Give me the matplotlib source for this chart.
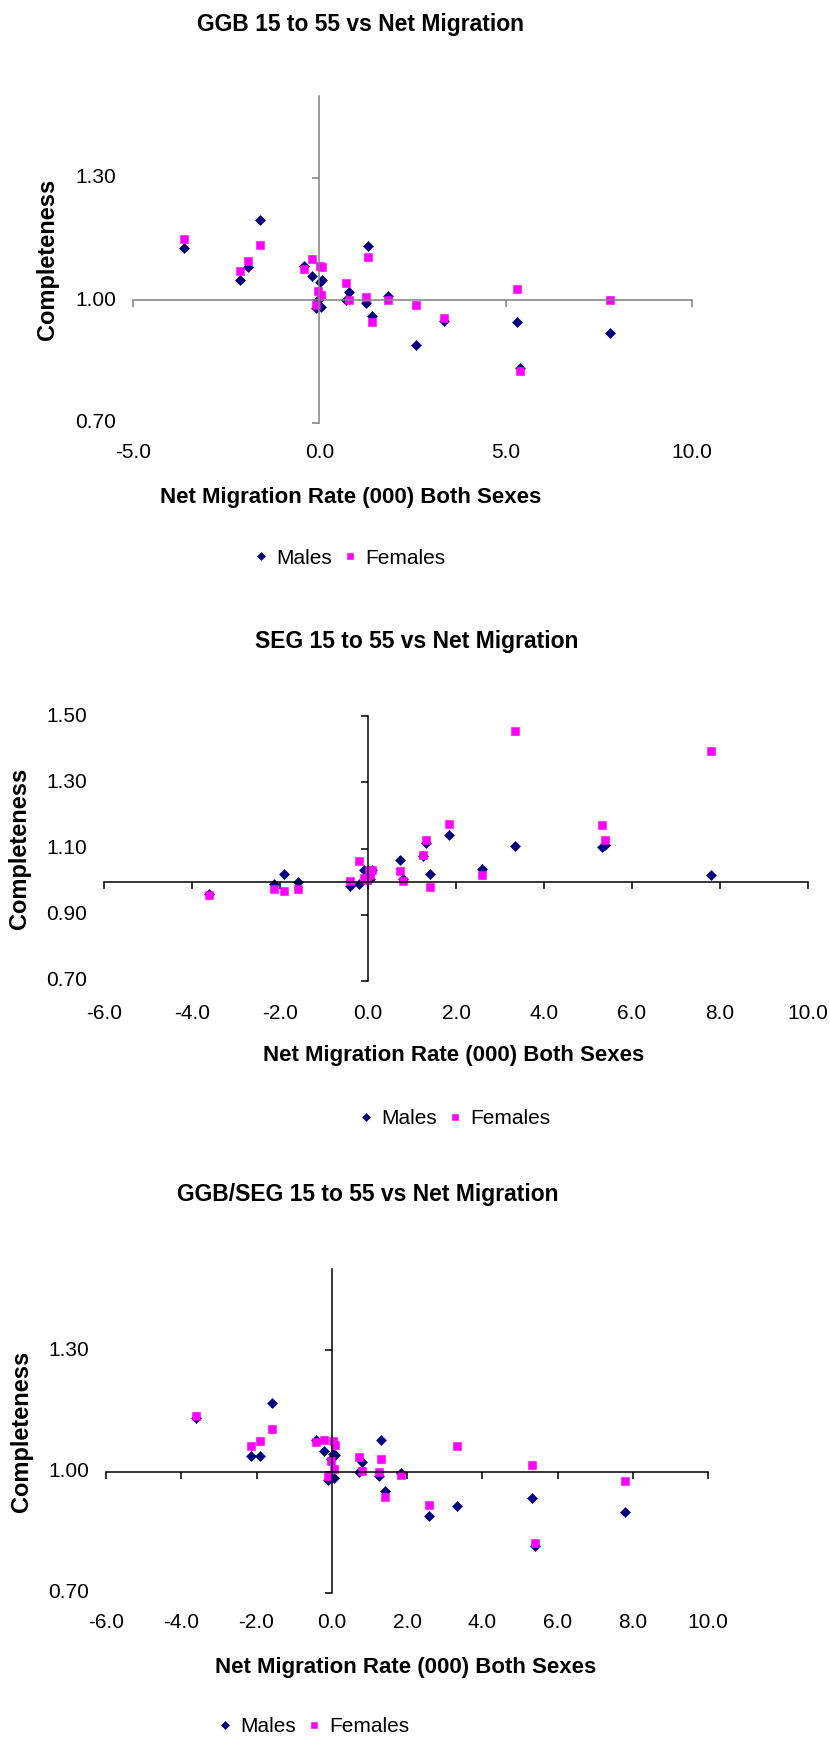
import matplotlib
matplotlib.use('Agg')
import matplotlib.pyplot as plt
from matplotlib.transforms import blended_transform_factory

plt.rcParams['font.family'] = ['Liberation Sans', 'DejaVu Sans']

#############################################
## Data
#############################################
# net migration rate (000), both sexes - one value per area, same in all panels
net_migration = [-3.62, -2.14, -1.91, -1.60, -0.42, -0.21, -0.10, -0.03, 0.02, 0.05, 0.08,
                 0.72, 0.80, 1.25, 1.31, 1.42, 1.84, 2.59, 3.34, 5.31, 5.39, 7.80]

ggb_males = [1.127, 1.049, 1.082, 1.197, 1.084, 1.059, 0.981, 1.000, 1.045, 0.984, 1.049,
             1.000, 1.020, 0.993, 1.133, 0.962, 1.011, 0.892, 0.950, 0.946, 0.834, 0.921]
ggb_females = [1.151, 1.072, 1.096, 1.135, 1.076, 1.101, 0.988, 1.022, 1.085, 1.012, 1.081,
               1.042, 1.002, 1.008, 1.106, 0.948, 1.002, 0.988, 0.958, 1.028, 0.826, 1.002]

seg_males = [0.962, 0.994, 1.023, 0.999, 0.986, 0.992, 1.035, 1.010, 1.020, 1.009, 1.035,
             1.065, 1.007, 1.077, 1.118, 1.022, 1.142, 1.037, 1.107, 1.106, 1.111, 1.019]
seg_females = [0.960, 0.979, 0.972, 0.979, 1.002, 1.062, 1.011, 1.004, 1.035, 1.020, 1.035,
               1.033, 1.001, 1.080, 1.127, 0.984, 1.175, 1.020, 1.454, 1.170, 1.127, 1.395]

ratio_males = [1.133, 1.039, 1.039, 1.168, 1.079, 1.050, 0.978, 1.030, 1.044, 0.984, 1.040,
               1.000, 1.024, 0.988, 1.079, 0.951, 0.996, 0.890, 0.915, 0.935, 0.816, 0.900]
ratio_females = [1.136, 1.062, 1.076, 1.106, 1.072, 1.077, 0.988, 1.027, 1.076, 1.007, 1.066,
                 1.036, 1.002, 0.998, 1.032, 0.938, 0.992, 0.917, 1.062, 1.017, 0.823, 0.977]

titles = ['GGB 15 to 55 vs Net Migration', 'SEG 15 to 55 vs Net Migration',
          'GGB/SEG 15 to 55 vs Net Migration']
xticks_all = [[-5, 0, 5, 10], [-6, -4, -2, 0, 2, 4, 6, 8, 10], [-6, -4, -2, 0, 2, 4, 6, 8, 10]]
yticks_all = [[0.7, 1.0, 1.3], [0.7, 0.9, 1.1, 1.3, 1.5], [0.7, 1.0, 1.3]]
series = [(ggb_males, ggb_females), (seg_males, seg_females), (ratio_males, ratio_females)]

#############################################
## Layout (pixels, origin top-left)
#############################################
W, H = 830, 1743
# plot box, title, xlabel, ylabel x, ytick right edge, xtick row, legend centre, axis colour
layout = [
    dict(box=(133, 96, 692, 423), title=(360, 24), xlab=(351, 497), ylab=47, yt=116,
         xt=452, leg=(350, 558), col='#808080'),
    dict(box=(104, 716, 808, 981), title=(417, 641), xlab=(454, 1055), ylab=20, yt=87,
         xt=1013, leg=(455, 1119), col='#000000'),
    dict(box=(106, 1269, 708, 1593), title=(368, 1194), xlab=(406, 1667), ylab=21, yt=89,
         xt=1623, leg=(314, 1727), col='#000000'),
]

fig = plt.figure(figsize=(W / 100, H / 100), dpi=100)

for i in range(3):
    L = layout[i]
    l, t, r, b = L['box']
    ax = fig.add_axes([l / W, 1 - b / H, (r - l) / W, (b - t) / H])
    xt = xticks_all[i]
    yt = yticks_all[i]
    males, females = series[i]

    hm, = ax.plot(net_migration, males, linestyle='none', marker='D', ms=5.6,
                  color='#000080', mec='#000080', mew=0.4, clip_on=False, label='Males')
    hf, = ax.plot(net_migration, females, linestyle='none', marker='s', ms=6.0,
                  color='#FF00FF', mec='#FF00FF', mew=0.4, clip_on=False, label='Females')

    ax.set_xlim(xt[0], xt[-1])
    ax.set_ylim(0.7, 1.5)
    ax.set_xticks(xt)
    ax.set_yticks(yt)

    # axes cross at (0, 1.00)
    ax.spines['right'].set_visible(False)
    ax.spines['top'].set_visible(False)
    ax.spines['left'].set_position(('data', 0))
    ax.spines['bottom'].set_position(('data', 1.0))
    for s in ['left', 'bottom']:
        ax.spines[s].set_color(L['col'])
        ax.spines[s].set_linewidth(1.1)
    ax.tick_params(direction='out', length=5, width=1.1, color=L['col'],
                   labelbottom=False, labelleft=False)
    ax.patch.set_visible(False)

    # tick labels sit at the outer edge, not on the crossing axes
    tx = blended_transform_factory(ax.transData, fig.transFigure)
    for v in xt:
        ax.text(v, 1 - L['xt'] / H, '%.1f' % v, transform=tx, ha='center', va='center',
                fontsize=15, clip_on=False)
    ty = blended_transform_factory(fig.transFigure, ax.transData)
    for v in yt:
        ax.text(L['yt'] / W, v, '%.2f' % v, transform=ty, ha='right', va='center',
                fontsize=15, clip_on=False)

    fig.text(L['title'][0] / W, 1 - L['title'][1] / H, titles[i], ha='center', va='center',
             fontsize=16.5, fontweight='bold')
    fig.text(L['xlab'][0] / W, 1 - L['xlab'][1] / H, 'Net Migration Rate (000) Both Sexes',
             ha='center', va='center', fontsize=16, fontweight='bold')
    fig.text(L['ylab'] / W, 1 - (t + b) / 2 / H, 'Completeness', rotation=90,
             ha='center', va='center', fontsize=17, fontweight='bold')

    fig.legend(handles=[hm, hf], loc='center', ncol=2, frameon=False, fontsize=15,
               bbox_to_anchor=(L['leg'][0] / W, 1 - L['leg'][1] / H),
               handlelength=0.6, handletextpad=0.4, columnspacing=0.6, markerscale=0.75,
               borderpad=0, borderaxespad=0)

plt.savefig('out.png', dpi=100)
